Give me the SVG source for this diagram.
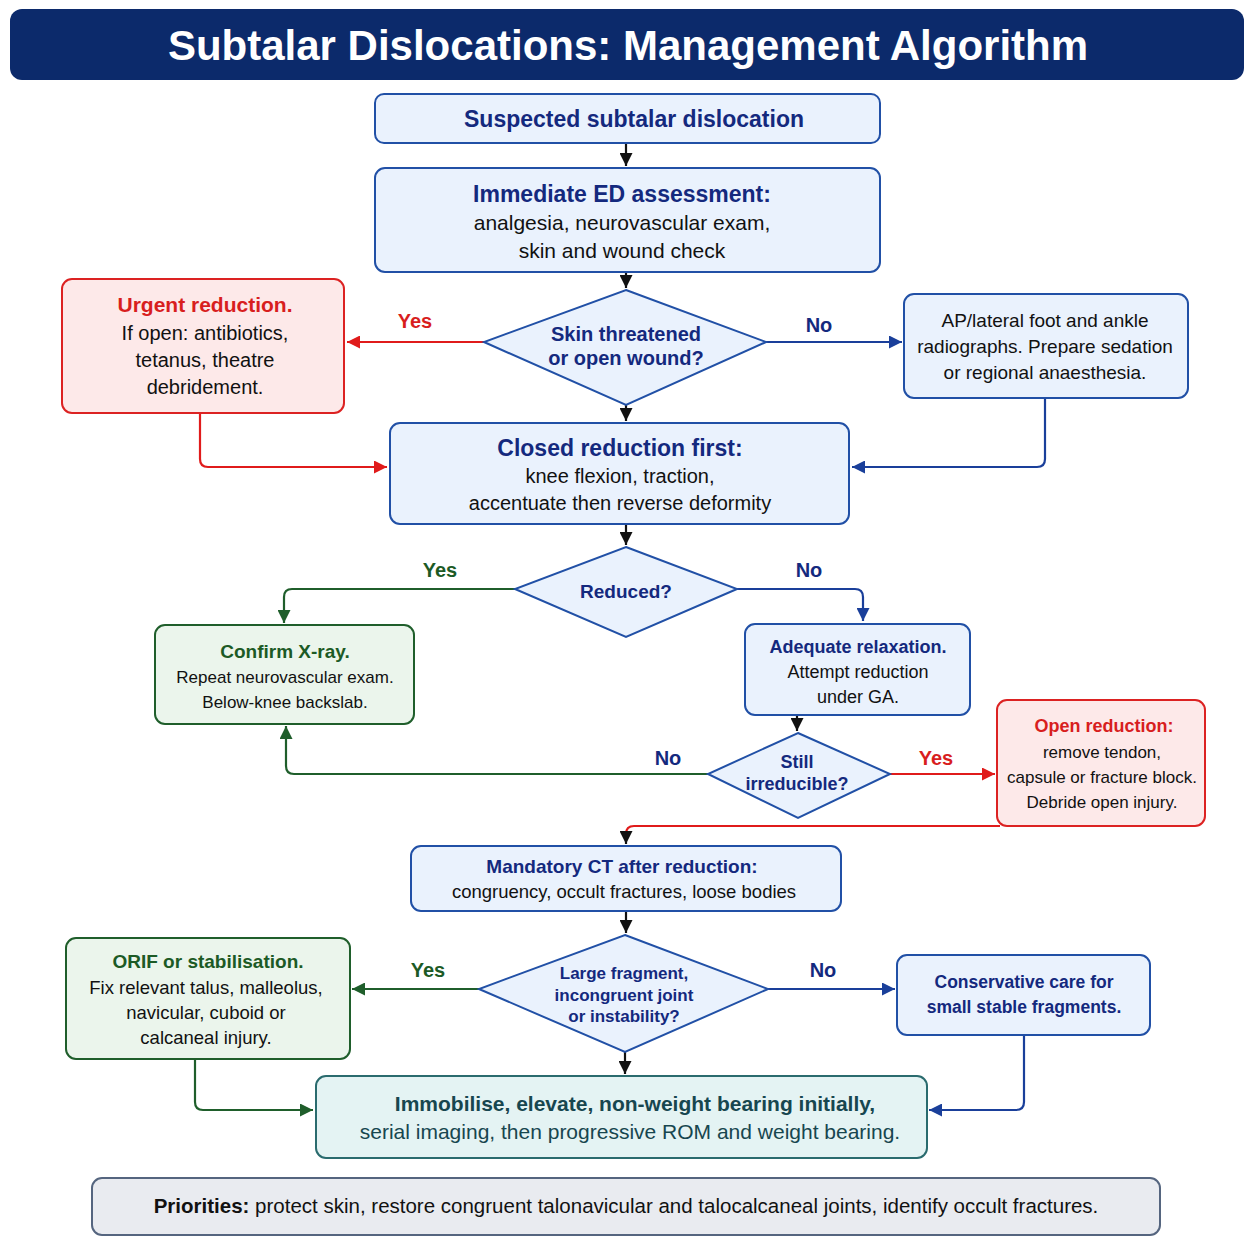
<svg xmlns="http://www.w3.org/2000/svg" width="1254" height="1254" viewBox="0 0 1254 1254">
<defs>
<style>
text{font-family:"Liberation Sans",Arial,sans-serif;text-anchor:middle}
.b{font-weight:bold}
.nv{fill:#14297e}
.rd{fill:#d81e1e}
.gr{fill:#1c5a25}
.tl{fill:#17464f}
.bk{fill:#111}
.nb{fill:#eaf2fd;stroke:#2150a6;stroke-width:2}
.rb{fill:#fde9e9;stroke:#dc2222;stroke-width:2}
.gb{fill:#ebf5ec;stroke:#1f5e2b;stroke-width:2}
.c{fill:none;stroke-width:2.2}
.ck{stroke:#111}
.cr{stroke:#e01b1b}
.cb{stroke:#1a3f9a}
.cg{stroke:#1f5e2b}
</style>
<marker id="ak" markerUnits="userSpaceOnUse" markerWidth="15" markerHeight="13" refX="13" refY="6.5" orient="auto"><path d="M0,0 L13,6.5 L0,13 z" fill="#111"/></marker>
<marker id="ar" markerUnits="userSpaceOnUse" markerWidth="15" markerHeight="13" refX="13" refY="6.5" orient="auto"><path d="M0,0 L13,6.5 L0,13 z" fill="#e01b1b"/></marker>
<marker id="ab" markerUnits="userSpaceOnUse" markerWidth="15" markerHeight="13" refX="13" refY="6.5" orient="auto"><path d="M0,0 L13,6.5 L0,13 z" fill="#1a3f9a"/></marker>
<marker id="ag" markerUnits="userSpaceOnUse" markerWidth="15" markerHeight="13" refX="13" refY="6.5" orient="auto"><path d="M0,0 L13,6.5 L0,13 z" fill="#1f5e2b"/></marker>
</defs>
<rect width="1254" height="1254" fill="#ffffff"/>

<g id="title">
<rect x="10" y="9" width="1234" height="71" rx="12" fill="#0c2a6b"/>
<text x="628" y="60" class="b" font-size="42" fill="#ffffff">Subtalar Dislocations: Management Algorithm</text>
</g>

<g id="connectors">
<path class="c ck" d="M626,143 V166" marker-end="url(#ak)"/>
<path class="c ck" d="M626,272 V288" marker-end="url(#ak)"/>
<path class="c ck" d="M626,405 V421" marker-end="url(#ak)"/>
<path class="c ck" d="M626,524 V545" marker-end="url(#ak)"/>
<path class="c ck" d="M797,715 V731" marker-end="url(#ak)"/>
<path class="c ck" d="M626,911 V933" marker-end="url(#ak)"/>
<path class="c ck" d="M625,1052 V1074" marker-end="url(#ak)"/>
<path class="c cr" d="M484,342 H347" marker-end="url(#ar)"/>
<path class="c cb" d="M766,342 H902" marker-end="url(#ab)"/>
<path class="c cr" d="M200,413 V459 Q200,467 208,467 H387" marker-end="url(#ar)"/>
<path class="c cb" d="M1045,398 V459 Q1045,467 1037,467 H852" marker-end="url(#ab)"/>
<path class="c cg" d="M515,589 H292 Q284,589 284,597 V623" marker-end="url(#ag)"/>
<path class="c cb" d="M737,589 H855 Q863,589 863,597 V621" marker-end="url(#ab)"/>
<path class="c cg" d="M708,774 H294 Q286,774 286,766 V726" marker-end="url(#ag)"/>
<path class="c cr" d="M890,774 H995" marker-end="url(#ar)"/>
<path class="c cr" d="M1000,826 H634 Q626,826 626,834 V838"/>
<path class="c ck" d="M626,836 V844" marker-end="url(#ak)"/>
<path class="c cg" d="M479,989 H352" marker-end="url(#ag)"/>
<path class="c cb" d="M768,989 H895" marker-end="url(#ab)"/>
<path class="c cg" d="M195,1059 V1102 Q195,1110 203,1110 H313" marker-end="url(#ag)"/>
<path class="c cb" d="M1024,1035 V1102 Q1024,1110 1016,1110 H929" marker-end="url(#ab)"/>
<text x="415" y="328" class="b rd" font-size="20">Yes</text>
<text x="819" y="332" class="b nv" font-size="20">No</text>
<text x="440" y="577" class="b gr" font-size="20">Yes</text>
<text x="809" y="577" class="b nv" font-size="20">No</text>
<text x="668" y="765" class="b nv" font-size="20">No</text>
<text x="936" y="765" class="b rd" font-size="20">Yes</text>
<text x="428" y="977" class="b gr" font-size="20">Yes</text>
<text x="823" y="977" class="b nv" font-size="20">No</text>
</g>

<g id="n-suspected">
<rect x="375" y="94" width="505" height="49" rx="9" class="nb"/>
<text x="634" y="127" class="b nv" font-size="23">Suspected subtalar dislocation</text>
</g>

<g id="n-ed">
<rect x="375" y="168" width="505" height="104" rx="10" class="nb"/>
<text x="622" y="202" class="b nv" font-size="23">Immediate ED assessment:</text>
<text x="622" y="230" class="bk" font-size="21">analgesia, neurovascular exam,</text>
<text x="622" y="258" class="bk" font-size="21">skin and wound check</text>
</g>

<g id="n-skin">
<polygon points="626,290 766,342 626,405 484,342" fill="#eaf2fd" stroke="#2150a6" stroke-width="2"/>
<text x="626" y="341" class="b nv" font-size="20">Skin threatened</text>
<text x="626" y="365" class="b nv" font-size="20">or open wound?</text>
</g>

<g id="n-urgent">
<rect x="62" y="279" width="282" height="134" rx="10" class="rb"/>
<text x="205" y="312" class="b rd" font-size="21">Urgent reduction.</text>
<text x="205" y="340" class="bk" font-size="20">If open: antibiotics,</text>
<text x="205" y="367" class="bk" font-size="20">tetanus, theatre</text>
<text x="205" y="394" class="bk" font-size="20">debridement.</text>
</g>

<g id="n-xray">
<rect x="904" y="294" width="284" height="104" rx="10" class="nb"/>
<text x="1045" y="327" class="bk" font-size="19">AP/lateral foot and ankle</text>
<text x="1045" y="353" class="bk" font-size="19">radiographs. Prepare sedation</text>
<text x="1045" y="379" class="bk" font-size="19">or regional anaesthesia.</text>
</g>

<g id="n-closed">
<rect x="390" y="423" width="459" height="101" rx="10" class="nb"/>
<text x="620" y="456" class="b nv" font-size="23">Closed reduction first:</text>
<text x="620" y="483" class="bk" font-size="20">knee flexion, traction,</text>
<text x="620" y="510" class="bk" font-size="20">accentuate then reverse deformity</text>
</g>

<g id="n-reduced">
<polygon points="626,547 737,589 626,637 515,589" fill="#eaf2fd" stroke="#2150a6" stroke-width="2"/>
<text x="626" y="598" class="b nv" font-size="19">Reduced?</text>
</g>

<g id="n-confirm">
<rect x="155" y="625" width="259" height="99" rx="10" class="gb"/>
<text x="285" y="658" class="b gr" font-size="19">Confirm X-ray.</text>
<text x="285" y="683" class="bk" font-size="17">Repeat neurovascular exam.</text>
<text x="285" y="708" class="bk" font-size="17">Below-knee backslab.</text>
</g>

<g id="n-adequate">
<rect x="745" y="624" width="225" height="91" rx="10" class="nb"/>
<text x="858" y="653" class="b nv" font-size="18">Adequate relaxation.</text>
<text x="858" y="678" class="bk" font-size="18">Attempt reduction</text>
<text x="858" y="703" class="bk" font-size="18">under GA.</text>
</g>

<g id="n-still">
<polygon points="798,733 890,774 798,818 708,774" fill="#eaf2fd" stroke="#2150a6" stroke-width="2"/>
<text x="797" y="768" class="b nv" font-size="18">Still</text>
<text x="797" y="790" class="b nv" font-size="18">irreducible?</text>
</g>

<g id="n-open">
<rect x="997" y="700" width="208" height="126" rx="10" class="rb"/>
<text x="1104" y="732" class="b rd" font-size="18">Open reduction:</text>
<text x="1102" y="758" class="bk" font-size="17">remove tendon,</text>
<text x="1102" y="783" class="bk" font-size="17">capsule or fracture block.</text>
<text x="1102" y="808" class="bk" font-size="17">Debride open injury.</text>
</g>

<g id="n-ct">
<rect x="411" y="846" width="430" height="65" rx="10" class="nb"/>
<text x="622" y="873" class="b nv" font-size="19">Mandatory CT after reduction:</text>
<text x="624" y="898" class="bk" font-size="18.5">congruency, occult fractures, loose bodies</text>
</g>

<g id="n-large">
<polygon points="625,935 768,989 625,1052 479,989" fill="#eaf2fd" stroke="#2150a6" stroke-width="2"/>
<text x="624" y="979" class="b nv" font-size="17">Large fragment,</text>
<text x="624" y="1001" class="b nv" font-size="17">incongruent joint</text>
<text x="624" y="1022" class="b nv" font-size="17">or instability?</text>
</g>

<g id="n-orif">
<rect x="66" y="938" width="284" height="121" rx="10" class="gb"/>
<text x="208" y="968" class="b gr" font-size="19">ORIF or stabilisation.</text>
<text x="206" y="994" class="bk" font-size="18.5">Fix relevant talus, malleolus,</text>
<text x="206" y="1019" class="bk" font-size="18.5">navicular, cuboid or</text>
<text x="206" y="1044" class="bk" font-size="18.5">calcaneal injury.</text>
</g>

<g id="n-conservative">
<rect x="897" y="955" width="253" height="80" rx="10" class="nb"/>
<text x="1024" y="988" class="b nv" font-size="17.5">Conservative care for</text>
<text x="1024" y="1013" class="b nv" font-size="17.5">small stable fragments.</text>
</g>

<g id="n-final">
<rect x="316" y="1076" width="611" height="82" rx="10" fill="#e4f3f3" stroke="#2a6b6e" stroke-width="2"/>
<text x="635" y="1111" class="b tl" font-size="21">Immobilise, elevate, non-weight bearing initially,</text>
<text x="630" y="1139" class="tl" font-size="21">serial imaging, then progressive ROM and weight bearing.</text>
</g>

<g id="n-priorities">
<rect x="92" y="1178" width="1068" height="57" rx="10" fill="#e9ebf0" stroke="#55657f" stroke-width="2"/>
<text x="626" y="1213" class="bk" font-size="20.5"><tspan class="b">Priorities:</tspan> protect skin, restore congruent talonavicular and talocalcaneal joints, identify occult fractures.</text>
</g>
</svg>
